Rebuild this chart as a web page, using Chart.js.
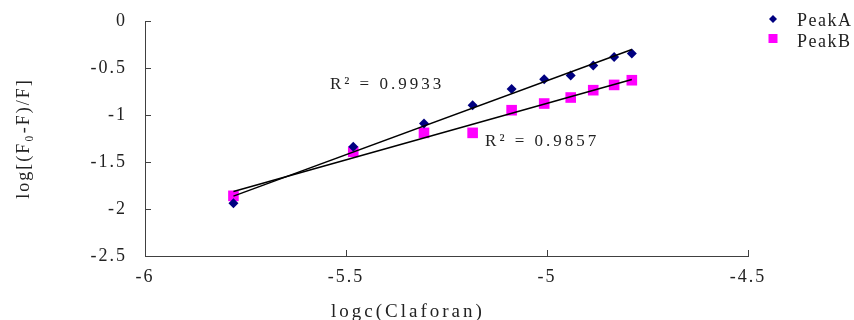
<!DOCTYPE html>
<html>
<head>
<meta charset="utf-8">
<script src="https://cdn.jsdelivr.net/npm/chart.js@4.4.1/dist/chart.umd.min.js"></script>
<style>
    html, body { margin: 0; padding: 0; background: #fff; }
</style>
</head>
<body>
<canvas id="ourChart" width="854" height="320"></canvas>
<script>
var logC = [-5.780, -5.482, -5.306, -5.185, -5.088, -5.007, -4.941, -4.885, -4.833, -4.789];
var peakA = [-1.940, -1.339, -1.090, -0.896, -0.723, -0.620, -0.580, -0.474, -0.383, -0.346];
var peakB = [-1.860, -1.392, -1.190, -1.190, -0.949, -0.878, -0.814, -0.736, -0.680, -0.630];
var seriesNames = ["PeakA", "PeakB"];
var xTicks = [-6, -5.5, -5, -4.5];
var yTicks = [0, -0.5, -1, -1.5, -2, -2.5];
var r2Texts = ["R\u00B2 = 0.9933", "R\u00B2 = 0.9857"];
var xTitle = "logc(Claforan)";
var yTitle = "log[(F\u2080-F)/F]";

var fontFamily = "'Liberation Serif', serif";
var axisColor = '#404040';
var textColor = '#222';

function points(ys) {
    return logC.map(function (x, i) { return {x: x, y: ys[i]}; });
}

// least squares trendline, as the spreadsheet did it
function trend(ys) {
    var n = logC.length, sx = 0, sy = 0, sxx = 0, sxy = 0;
    for (var i = 0; i < n; i++) {
        sx += logC[i]; sy += ys[i];
        sxx += logC[i] * logC[i]; sxy += logC[i] * ys[i];
    }
    var b = (n * sxy - sx * sy) / (n * sxx - sx * sx);
    var a = (sy - b * sx) / n;
    var x0 = Math.min.apply(null, logC), x1 = Math.max.apply(null, logC);
    return [{x: x0, y: a + b * x0}, {x: x1, y: a + b * x1}];
}

var extras = {
    id: 'extras',
    beforeDraw: function (chart) {
        // the original font is much wider, spread the glyphs a bit
        chart.ctx.letterSpacing = '2px';
    },
    afterDraw: function (chart) {
        var ctx = chart.ctx, xs = chart.scales.x, ys = chart.scales.y;
        var area = chart.chartArea;
        ctx.save();

        // tick marks point inwards
        ctx.strokeStyle = axisColor;
        ctx.lineWidth = 1;
        ctx.beginPath();
        xTicks.forEach(function (v) {
            var px = Math.round(xs.getPixelForValue(v)) + 0.5;
            ctx.moveTo(px, area.bottom); ctx.lineTo(px, area.bottom - 6);
        });
        yTicks.forEach(function (v) {
            var py = Math.round(ys.getPixelForValue(v)) + 0.5;
            ctx.moveTo(area.left, py); ctx.lineTo(area.left + 6, py);
        });
        ctx.stroke();

        ctx.fillStyle = textColor;
        ctx.textBaseline = 'middle';
        ctx.textAlign = 'left';
        ctx.letterSpacing = '3px';

        // R² labels
        ctx.font = "17px " + fontFamily;
        ctx.fillText(r2Texts[0], xs.getPixelForValue(-5.54), ys.getPixelForValue(-0.68));
        ctx.fillText(r2Texts[1], xs.getPixelForValue(-5.154), ys.getPixelForValue(-1.28));

        // x title (sits left of centre in the original)
        ctx.textAlign = 'center';
        ctx.font = "19px " + fontFamily;
        ctx.fillText(xTitle, xs.getPixelForValue(-5.346), chart.height - 8);

        // legend
        ctx.textAlign = 'left';
        ctx.letterSpacing = '1.5px';
        ctx.font = "18px " + fontFamily;
        ctx.fillStyle = '#000080';
        ctx.beginPath();
        ctx.moveTo(769, 19); ctx.lineTo(773, 15); ctx.lineTo(777, 19); ctx.lineTo(773, 23);
        ctx.closePath(); ctx.fill();
        ctx.fillStyle = '#ff00ff';
        ctx.fillRect(768.5, 34, 9, 9);
        ctx.fillStyle = textColor;
        ctx.fillText(seriesNames[0], 797, 21);
        ctx.fillText(seriesNames[1], 797, 42);
        ctx.restore();
    }
};

var chartElement = new Chart(document.getElementById('ourChart'), {
    type: 'scatter',
    data: {
        datasets: [
            {
                label: seriesNames[0] + ' trend',
                data: trend(peakA),
                showLine: true,
                borderColor: '#000',
                borderWidth: 1.5,
                pointRadius: 0,
                order: 0
            },
            {
                label: seriesNames[1] + ' trend',
                data: trend(peakB),
                showLine: true,
                borderColor: '#000',
                borderWidth: 1.5,
                pointRadius: 0,
                order: 0
            },
            {
                label: seriesNames[0],
                data: points(peakA),
                pointStyle: 'rectRot',
                pointRadius: 5,
                backgroundColor: '#000080',
                borderColor: '#000080',
                borderWidth: 0,
                order: 1
            },
            {
                label: seriesNames[1],
                data: points(peakB),
                pointStyle: 'rect',
                pointRadius: 7.5,
                backgroundColor: '#ff00ff',
                borderColor: '#ff00ff',
                borderWidth: 0,
                order: 1
            }
        ]
    },
    options: {
        responsive: false,
        animation: false,
        layout: {
            padding: {top: 21, right: 106, left: 0, bottom: 0}
        },
        plugins: {
            legend: {display: false},
            tooltip: {enabled: false}
        },
        scales: {
            x: {
                type: 'linear',
                min: -6,
                max: -4.5,
                afterBuildTicks: function (s) { s.ticks = xTicks.map(function (v) { return {value: v}; }); },
                afterFit: function (s) { s.height = 64; },
                border: {color: axisColor, width: 1},
                grid: {drawOnChartArea: false, drawTicks: false},
                ticks: {
                    padding: 10,
                    color: textColor,
                    font: {family: fontFamily, size: 18},
                    callback: function (v) { return String(v); }
                }
            },
            y: {
                type: 'linear',
                min: -2.5,
                max: 0,
                afterBuildTicks: function (s) { s.ticks = yTicks.map(function (v) { return {value: v}; }); },
                afterFit: function (s) { s.width = 145; s.paddingTop = 0; s.paddingBottom = 0; },
                border: {color: axisColor, width: 1},
                grid: {drawOnChartArea: false, drawTicks: false},
                ticks: {
                    padding: 18,
                    color: textColor,
                    font: {family: fontFamily, size: 18},
                    callback: function (v) { return String(v); }
                },
                title: {
                    display: true,
                    text: yTitle,
                    color: textColor,
                    font: {family: fontFamily, size: 18},
                    padding: {top: 13, bottom: 0}
                }
            }
        }
    },
    plugins: [extras]
});
</script>
</body>
</html>
